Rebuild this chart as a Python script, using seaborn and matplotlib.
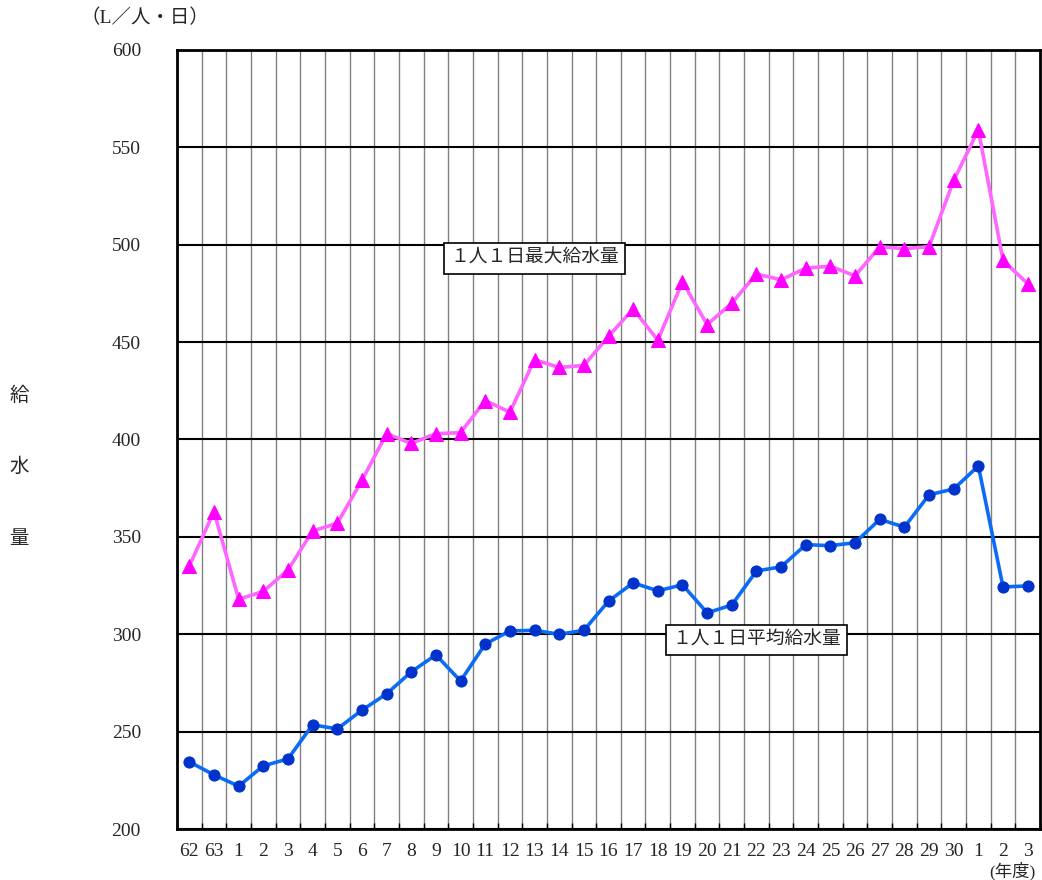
import matplotlib
matplotlib.use('Agg')

import numpy as np
import pandas as pd
import seaborn as sns
import matplotlib.pyplot as plt

# 年度ラベル（昭和62・63、平成1〜30、令和1〜3）
years = ['62', '63'] + [str(i) for i in range(1, 31)] + ['1', '2', '3']

# 1人1日最大給水量 (L/人・日)
max_supply = [335, 363, 318, 322, 333, 353, 357, 379, 403, 398,
              403, 403.5, 420, 414, 441, 437, 438, 453, 467, 451,
              481, 459, 470, 485, 482, 488, 489, 484, 499, 498,
              499, 533, 559, 492, 480]

# 1人1日平均給水量 (L/人・日)
avg_supply = [234.5, 227.8, 222, 232.4, 236, 253.5, 251.4, 261, 269.4, 280.7,
              289.4, 276, 295, 301.7, 302, 300, 302, 317, 326.4, 322.3,
              325.4, 311, 315, 332.5, 334.6, 346, 345.5, 347, 359, 355,
              371.6, 374.6, 386.4, 324.3, 324.8]

df = pd.DataFrame({'pos': np.arange(len(years)), 'year': years,
                   'max': max_supply, 'avg': avg_supply})

sns.set_theme(style='white')
fonts = ['Liberation Serif', 'Noto Sans CJK JP', 'DejaVu Sans']
plt.rcParams['font.family'] = fonts

fig = plt.figure(figsize=(10.42, 8.8), dpi=100)
ax = fig.add_axes([177 / 1042, 1 - 829 / 880, 863 / 1042, 779 / 880])

sns.lineplot(data=df, x='pos', y='max', ax=ax, color='#ff66ff', linewidth=2.6,
             marker='^', markersize=10, markerfacecolor='#ff00ff', markeredgecolor='#ff00ff',
             zorder=4)
sns.lineplot(data=df, x='pos', y='avg', ax=ax, color='#0a6cf5', linewidth=2.6,
             marker='o', markersize=8, markerfacecolor='#0033cc', markeredgecolor='#0033cc',
             zorder=4)

ax.set_xlim(-0.5, len(years) - 0.5)
ax.set_ylim(200, 600)

# 縦の補助線（年度の区切り）
ax.set_xticks(df['pos'])
ax.set_xticklabels(years)
ax.set_xticks(np.arange(-0.5, len(years)), minor=True)
ax.grid(which='minor', axis='x', color='#808080', linewidth=1.0)
ax.grid(which='major', axis='x', visible=False)
ax.tick_params(axis='x', which='major', length=0, pad=10, labelsize=14)
ax.tick_params(axis='x', which='minor', direction='in', length=4, width=1, color='black', bottom=True)

# 横の補助線
ax.set_yticks(np.arange(200, 601, 50))
ax.grid(which='major', axis='y', color='black', linewidth=1.5)
ax.tick_params(axis='y', which='major', length=0, pad=26, labelsize=14)

for s in ax.spines.values():
    s.set_color('black')
    s.set_linewidth(2)
    s.set_visible(True)

ax.set_xlabel('')
ax.set_ylabel('')

box = dict(boxstyle='square,pad=0.35', facecolor='white', edgecolor='black', linewidth=1.2)
ax.text(14, 493, '１人１日最大給水量', fontsize=13.5, ha='center', va='center',
        family=fonts, bbox=box, zorder=6)
ax.text(23, 297, '１人１日平均給水量', fontsize=13.5, ha='center', va='center',
        family=fonts, bbox=box, zorder=6)

fig.text(145 / 1042, 1 - 18 / 880, '（L／人・日）', fontsize=14, ha='center', va='center', family=fonts)
for ch, y in zip(['給', '水', '量'], [396, 467, 539]):
    fig.text(19 / 1042, 1 - y / 880, ch, fontsize=14, ha='center', va='center', family=fonts)
fig.text(1012 / 1042, 1 - 871 / 880, '(年度)', fontsize=12.5, ha='center', va='center', family=fonts)

fig.savefig('out.png', dpi=100, facecolor='white')
plt.close(fig)
